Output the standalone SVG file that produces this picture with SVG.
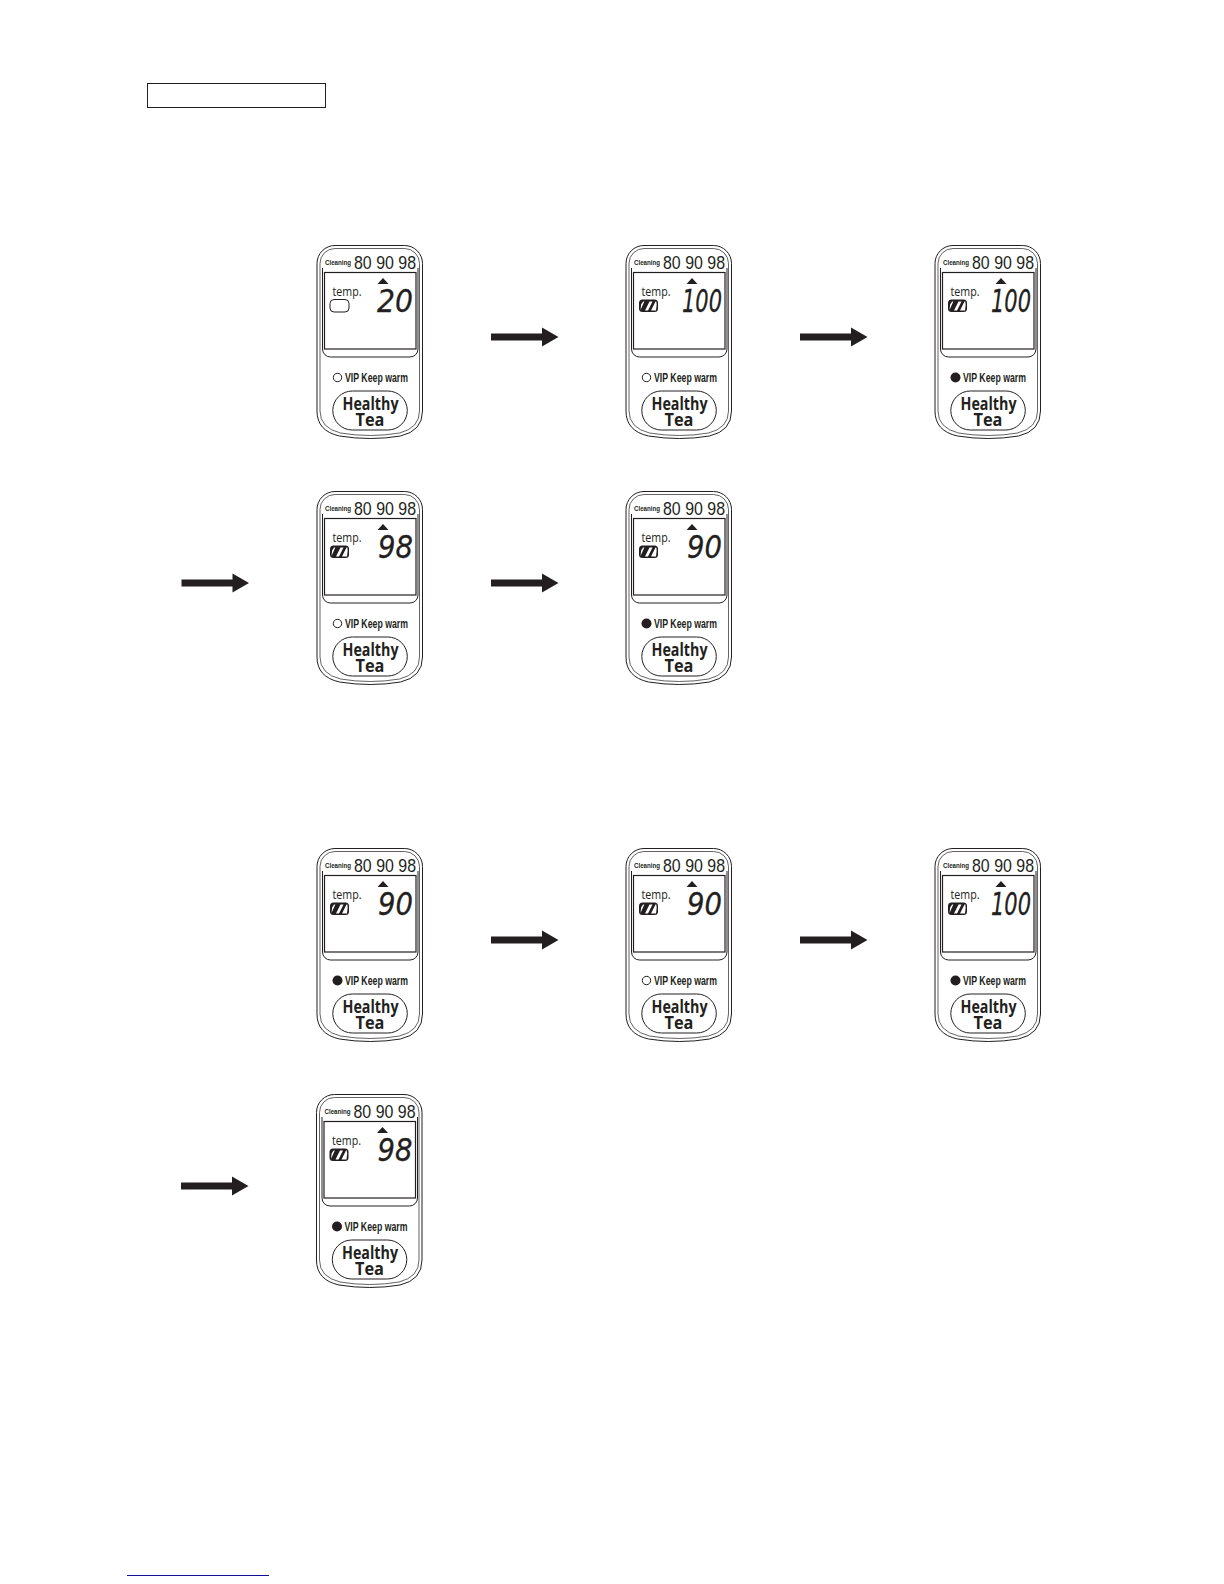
<svg xmlns="http://www.w3.org/2000/svg" width="1224" height="1584" viewBox="0 0 1224 1584">
<style>
text{font-family:"Liberation Sans",Arial,sans-serif;fill:#231f20}
.ln{fill:none;stroke:#231f20;stroke-width:1}
.ln2{fill:none;stroke:#231f20;stroke-width:.7}
.c{font-size:8px;font-weight:700}
.n{font-size:19px}
.t{font-family:"Open Sans",sans-serif;font-size:13px}
.d{font-family:"DejaVu Sans",sans-serif;font-size:32px;font-style:oblique;stroke:#231f20;stroke-width:.3}
.v{font-size:12px;font-weight:700}
.h{font-family:"Open Sans",sans-serif;font-size:17.500px;font-weight:700;text-anchor:middle}
.off{fill:#fff;stroke:#231f20;stroke-width:1}
.on{fill:#231f20}
.arrow{fill:#231f20}
</style>
<defs>
<g id="panel">
<path class="ln" d="M335 245.500H404.500a18 18 0 0 1 18 18V411q0 20-22 25q-30 5-61 0q-22.500-5-22.500-25V263.500a18 18 0 0 1 18-18z"/>
<path class="ln2" d="M335 248.500H404.500a15 15 0 0 1 15 15V411q0 17-20 22q-29 5-59 0q-20.500-5-20.500-22V263.500a15 15 0 0 1 15-15z"/>
<path class="ln" d="M322.500 268V349a8 8 0 0 0 8 8H410a8 8 0 0 0 8-8V268"/>
<rect x="324.500" y="272.500" width="91.500" height="76.500" fill="#fff" stroke="#231f20" stroke-width="1.200"/>
<path class="on" d="M383 278l5.500 6h-11z"/>
<rect class="ln" x="332.800" y="391" width="74.500" height="39" rx="19.500" ry="19.500" stroke-width="1.200"/>
</g>
<g id="iconEmpty">
<rect x="330" y="299.500" width="19" height="12.500" rx="4" ry="4" class="ln"/>
</g>
<g id="iconFull">
<rect x="330" y="299.500" width="19" height="12.500" rx="3.500" ry="3.500" fill="#231f20"/>
<path fill="#fff" d="M331.500 310.500l.6-6 2-3h1.200l-4 9zM336 310.500l4.500-9h3l-4.500 9zM342 310.500l4.500-9h.8l.4 3-.7 6z"/>
</g>
<path id="arr" d="M0 -3.500H51V-9.500L67.500 0L51 9.500V3.500H0z"/>
</defs>

<rect id="blank-label" x="147.500" y="83.500" width="178" height="24" fill="#fff" stroke="#231f20" stroke-width="1"/>

<g id="connectors" class="arrow">
<use href="#arr" x="491" y="337"/>
<use href="#arr" x="800" y="337"/>
<use href="#arr" x="181.500" y="583"/>
<use href="#arr" x="491" y="583"/>
<use href="#arr" x="491" y="940"/>
<use href="#arr" x="800" y="940"/>
<use href="#arr" x="181" y="1186"/>
</g>

<g id="node-r1c1">
<use href="#panel"/><use href="#iconEmpty"/>
<text class="c" x="325" y="265" textLength="26" lengthAdjust="spacingAndGlyphs">Cleaning</text>
<text class="n" x="354" y="268.500" textLength="62" lengthAdjust="spacingAndGlyphs">80 90 98</text>
<text class="t" x="332.500" y="295.500" textLength="29" lengthAdjust="spacingAndGlyphs">temp.</text>
<text class="d" x="377" y="312" textLength="36" lengthAdjust="spacingAndGlyphs">20</text>
<circle class="off" cx="337.500" cy="377.500" r="4.200"/>
<text class="v" x="345" y="382" textLength="63" lengthAdjust="spacingAndGlyphs">VIP Keep warm</text>
<text class="h" x="370.500" y="410" textLength="56" lengthAdjust="spacingAndGlyphs">Healthy</text>
<text class="h" x="370" y="426" textLength="29" lengthAdjust="spacingAndGlyphs">Tea</text>
</g>

<g id="node-r1c2" transform="translate(309 0)">
<use href="#panel"/><use href="#iconFull"/>
<text class="c" x="325" y="265" textLength="26" lengthAdjust="spacingAndGlyphs">Cleaning</text>
<text class="n" x="354" y="268.500" textLength="62" lengthAdjust="spacingAndGlyphs">80 90 98</text>
<text class="t" x="332.500" y="295.500" textLength="29" lengthAdjust="spacingAndGlyphs">temp.</text>
<text class="d" x="373" y="312" textLength="40" lengthAdjust="spacingAndGlyphs">100</text>
<circle class="off" cx="337.500" cy="377.500" r="4.200"/>
<text class="v" x="345" y="382" textLength="63" lengthAdjust="spacingAndGlyphs">VIP Keep warm</text>
<text class="h" x="370.500" y="410" textLength="56" lengthAdjust="spacingAndGlyphs">Healthy</text>
<text class="h" x="370" y="426" textLength="29" lengthAdjust="spacingAndGlyphs">Tea</text>
</g>

<g id="node-r1c3" transform="translate(618 0)">
<use href="#panel"/><use href="#iconFull"/>
<text class="c" x="325" y="265" textLength="26" lengthAdjust="spacingAndGlyphs">Cleaning</text>
<text class="n" x="354" y="268.500" textLength="62" lengthAdjust="spacingAndGlyphs">80 90 98</text>
<text class="t" x="332.500" y="295.500" textLength="29" lengthAdjust="spacingAndGlyphs">temp.</text>
<text class="d" x="373" y="312" textLength="40" lengthAdjust="spacingAndGlyphs">100</text>
<circle class="on" cx="337.500" cy="377.500" r="5"/>
<text class="v" x="345" y="382" textLength="63" lengthAdjust="spacingAndGlyphs">VIP Keep warm</text>
<text class="h" x="370.500" y="410" textLength="56" lengthAdjust="spacingAndGlyphs">Healthy</text>
<text class="h" x="370" y="426" textLength="29" lengthAdjust="spacingAndGlyphs">Tea</text>
</g>

<g id="node-r2c1" transform="translate(0 246)">
<use href="#panel"/><use href="#iconFull"/>
<text class="c" x="325" y="265" textLength="26" lengthAdjust="spacingAndGlyphs">Cleaning</text>
<text class="n" x="354" y="268.500" textLength="62" lengthAdjust="spacingAndGlyphs">80 90 98</text>
<text class="t" x="332.500" y="295.500" textLength="29" lengthAdjust="spacingAndGlyphs">temp.</text>
<text class="d" x="378" y="312" textLength="35" lengthAdjust="spacingAndGlyphs">98</text>
<circle class="off" cx="337.500" cy="377.500" r="4.200"/>
<text class="v" x="345" y="382" textLength="63" lengthAdjust="spacingAndGlyphs">VIP Keep warm</text>
<text class="h" x="370.500" y="410" textLength="56" lengthAdjust="spacingAndGlyphs">Healthy</text>
<text class="h" x="370" y="426" textLength="29" lengthAdjust="spacingAndGlyphs">Tea</text>
</g>

<g id="node-r2c2" transform="translate(309 246)">
<use href="#panel"/><use href="#iconFull"/>
<text class="c" x="325" y="265" textLength="26" lengthAdjust="spacingAndGlyphs">Cleaning</text>
<text class="n" x="354" y="268.500" textLength="62" lengthAdjust="spacingAndGlyphs">80 90 98</text>
<text class="t" x="332.500" y="295.500" textLength="29" lengthAdjust="spacingAndGlyphs">temp.</text>
<text class="d" x="378" y="312" textLength="35" lengthAdjust="spacingAndGlyphs">90</text>
<circle class="on" cx="337.500" cy="377.500" r="5"/>
<text class="v" x="345" y="382" textLength="63" lengthAdjust="spacingAndGlyphs">VIP Keep warm</text>
<text class="h" x="370.500" y="410" textLength="56" lengthAdjust="spacingAndGlyphs">Healthy</text>
<text class="h" x="370" y="426" textLength="29" lengthAdjust="spacingAndGlyphs">Tea</text>
</g>

<g id="node-r3c1" transform="translate(0 603)">
<use href="#panel"/><use href="#iconFull"/>
<text class="c" x="325" y="265" textLength="26" lengthAdjust="spacingAndGlyphs">Cleaning</text>
<text class="n" x="354" y="268.500" textLength="62" lengthAdjust="spacingAndGlyphs">80 90 98</text>
<text class="t" x="332.500" y="295.500" textLength="29" lengthAdjust="spacingAndGlyphs">temp.</text>
<text class="d" x="378" y="312" textLength="35" lengthAdjust="spacingAndGlyphs">90</text>
<circle class="on" cx="337.500" cy="377.500" r="5"/>
<text class="v" x="345" y="382" textLength="63" lengthAdjust="spacingAndGlyphs">VIP Keep warm</text>
<text class="h" x="370.500" y="410" textLength="56" lengthAdjust="spacingAndGlyphs">Healthy</text>
<text class="h" x="370" y="426" textLength="29" lengthAdjust="spacingAndGlyphs">Tea</text>
</g>

<g id="node-r3c2" transform="translate(309 603)">
<use href="#panel"/><use href="#iconFull"/>
<text class="c" x="325" y="265" textLength="26" lengthAdjust="spacingAndGlyphs">Cleaning</text>
<text class="n" x="354" y="268.500" textLength="62" lengthAdjust="spacingAndGlyphs">80 90 98</text>
<text class="t" x="332.500" y="295.500" textLength="29" lengthAdjust="spacingAndGlyphs">temp.</text>
<text class="d" x="378" y="312" textLength="35" lengthAdjust="spacingAndGlyphs">90</text>
<circle class="off" cx="337.500" cy="377.500" r="4.200"/>
<text class="v" x="345" y="382" textLength="63" lengthAdjust="spacingAndGlyphs">VIP Keep warm</text>
<text class="h" x="370.500" y="410" textLength="56" lengthAdjust="spacingAndGlyphs">Healthy</text>
<text class="h" x="370" y="426" textLength="29" lengthAdjust="spacingAndGlyphs">Tea</text>
</g>

<g id="node-r3c3" transform="translate(618 603)">
<use href="#panel"/><use href="#iconFull"/>
<text class="c" x="325" y="265" textLength="26" lengthAdjust="spacingAndGlyphs">Cleaning</text>
<text class="n" x="354" y="268.500" textLength="62" lengthAdjust="spacingAndGlyphs">80 90 98</text>
<text class="t" x="332.500" y="295.500" textLength="29" lengthAdjust="spacingAndGlyphs">temp.</text>
<text class="d" x="373" y="312" textLength="40" lengthAdjust="spacingAndGlyphs">100</text>
<circle class="on" cx="337.500" cy="377.500" r="5"/>
<text class="v" x="345" y="382" textLength="63" lengthAdjust="spacingAndGlyphs">VIP Keep warm</text>
<text class="h" x="370.500" y="410" textLength="56" lengthAdjust="spacingAndGlyphs">Healthy</text>
<text class="h" x="370" y="426" textLength="29" lengthAdjust="spacingAndGlyphs">Tea</text>
</g>

<g id="node-r4c1" transform="translate(-0.500 849)">
<use href="#panel"/><use href="#iconFull"/>
<text class="c" x="325" y="265" textLength="26" lengthAdjust="spacingAndGlyphs">Cleaning</text>
<text class="n" x="354" y="268.500" textLength="62" lengthAdjust="spacingAndGlyphs">80 90 98</text>
<text class="t" x="332.500" y="295.500" textLength="29" lengthAdjust="spacingAndGlyphs">temp.</text>
<text class="d" x="378" y="312" textLength="35" lengthAdjust="spacingAndGlyphs">98</text>
<circle class="on" cx="337.500" cy="377.500" r="5"/>
<text class="v" x="345" y="382" textLength="63" lengthAdjust="spacingAndGlyphs">VIP Keep warm</text>
<text class="h" x="370.500" y="410" textLength="56" lengthAdjust="spacingAndGlyphs">Healthy</text>
<text class="h" x="370" y="426" textLength="29" lengthAdjust="spacingAndGlyphs">Tea</text>
</g>

<line id="footer-rule" x1="127" y1="1575.500" x2="269" y2="1575.500" stroke="#10109a" stroke-width="1"/>
</svg>
